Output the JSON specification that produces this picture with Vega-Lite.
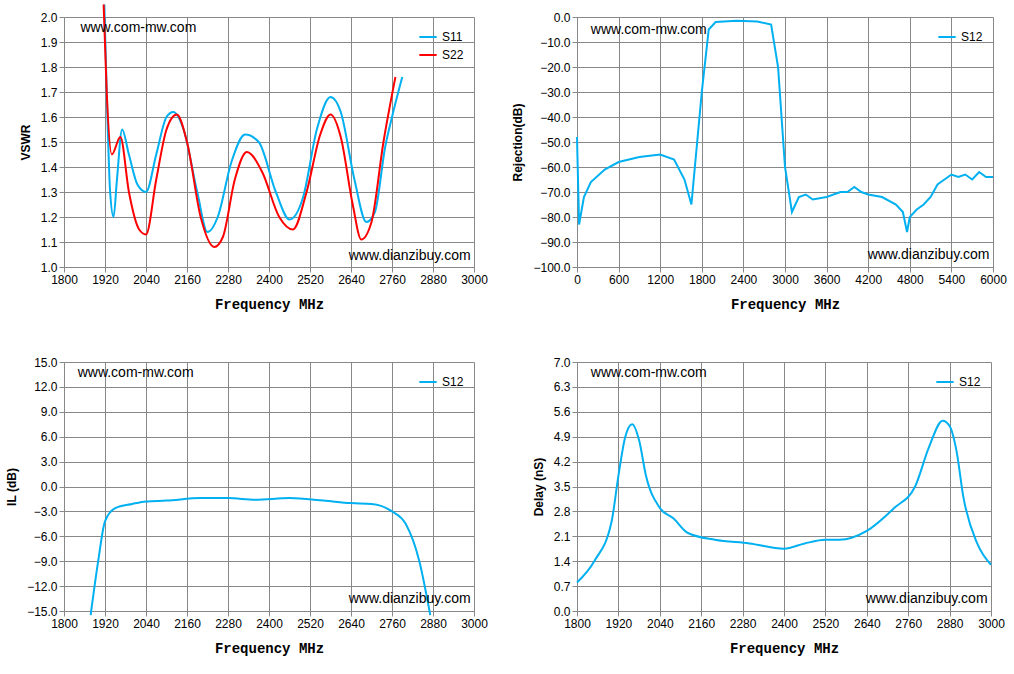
{
  "$schema": "https://vega.github.io/schema/vega-lite/v6.json",
  "background": "white",
  "padding": {"left": 5, "top": 0, "right": 5, "bottom": 5},
  "spacing": 45,
  "config": {
    "font": "Liberation Sans",
    "view": {"stroke": null},
    "axis": {"labelFont": "Liberation Sans", "labelFontSize": 12, "labelColor": "#000", "labelOverlap": false, "labelFlush": false, "gridColor": "#888", "gridWidth": 1, "domainColor": "#888", "tickColor": "#888", "titleFontSize": 12, "titleColor": "#000"},
    "axisX": {"titleFont": "Liberation Mono", "titleFontWeight": "bold", "titleFontSize": 14, "titlePadding": 12, "format": "d"},
    "axisY": {"titleFont": "Liberation Sans", "titleFontWeight": "bold", "titlePadding": 8},
    "legend": {"orient": "top-right", "title": null, "labelFontSize": 12, "symbolType": "stroke", "symbolStrokeWidth": 2, "symbolSize": 300, "padding": 4, "offset": 6},
    "line": {"strokeWidth": 2, "interpolate": "monotone", "clip": true},
    "text": {"fontSize": 14, "font": "Liberation Sans"}
  },
  "vconcat": [
    {"hconcat": [
      {
        "width": 410, "height": 250,
        "encoding": {
          "x": {"field": "f", "type": "quantitative", "scale": {"domain": [1800, 3000], "nice": false}, "axis": {"values": [1800, 1920, 2040, 2160, 2280, 2400, 2520, 2640, 2760, 2880, 3000], "title": "Frequency MHz"}},
          "y": {"field": "v", "type": "quantitative", "scale": {"domain": [1.0, 2.0], "nice": false}, "axis": {"values": [1.0, 1.1, 1.2, 1.3, 1.4, 1.5, 1.6, 1.7, 1.8, 1.9, 2.0], "format": ".1f", "title": "VSWR"}}
        },
        "layer": [
          {
            "data": {"values": [
              {"f": 1918, "v": 2.05, "s": "S11"}, {"f": 1925, "v": 1.7, "s": "S11"}, {"f": 1935, "v": 1.3, "s": "S11"}, {"f": 1945, "v": 1.2, "s": "S11"}, {"f": 1955, "v": 1.35, "s": "S11"}, {"f": 1970, "v": 1.55, "s": "S11"}, {"f": 1990, "v": 1.45, "s": "S11"}, {"f": 2015, "v": 1.33, "s": "S11"}, {"f": 2040, "v": 1.3, "s": "S11"}, {"f": 2070, "v": 1.45, "s": "S11"}, {"f": 2100, "v": 1.6, "s": "S11"}, {"f": 2120, "v": 1.62, "s": "S11"}, {"f": 2150, "v": 1.55, "s": "S11"}, {"f": 2190, "v": 1.3, "s": "S11"}, {"f": 2220, "v": 1.14, "s": "S11"}, {"f": 2250, "v": 1.2, "s": "S11"}, {"f": 2290, "v": 1.42, "s": "S11"}, {"f": 2330, "v": 1.53, "s": "S11"}, {"f": 2370, "v": 1.5, "s": "S11"}, {"f": 2420, "v": 1.3, "s": "S11"}, {"f": 2460, "v": 1.19, "s": "S11"}, {"f": 2500, "v": 1.28, "s": "S11"}, {"f": 2540, "v": 1.55, "s": "S11"}, {"f": 2580, "v": 1.68, "s": "S11"}, {"f": 2610, "v": 1.62, "s": "S11"}, {"f": 2650, "v": 1.35, "s": "S11"}, {"f": 2685, "v": 1.18, "s": "S11"}, {"f": 2710, "v": 1.22, "s": "S11"}, {"f": 2740, "v": 1.48, "s": "S11"}, {"f": 2760, "v": 1.6, "s": "S11"}, {"f": 2790, "v": 1.76, "s": "S11"},
              {"f": 1916, "v": 2.05, "s": "S22"}, {"f": 1925, "v": 1.7, "s": "S22"}, {"f": 1940, "v": 1.45, "s": "S22"}, {"f": 1965, "v": 1.52, "s": "S22"}, {"f": 1990, "v": 1.3, "s": "S22"}, {"f": 2020, "v": 1.15, "s": "S22"}, {"f": 2040, "v": 1.13, "s": "S22"}, {"f": 2070, "v": 1.35, "s": "S22"}, {"f": 2100, "v": 1.55, "s": "S22"}, {"f": 2130, "v": 1.61, "s": "S22"}, {"f": 2160, "v": 1.5, "s": "S22"}, {"f": 2200, "v": 1.2, "s": "S22"}, {"f": 2240, "v": 1.08, "s": "S22"}, {"f": 2265, "v": 1.12, "s": "S22"}, {"f": 2300, "v": 1.35, "s": "S22"}, {"f": 2335, "v": 1.46, "s": "S22"}, {"f": 2380, "v": 1.38, "s": "S22"}, {"f": 2430, "v": 1.2, "s": "S22"}, {"f": 2470, "v": 1.15, "s": "S22"}, {"f": 2510, "v": 1.3, "s": "S22"}, {"f": 2550, "v": 1.53, "s": "S22"}, {"f": 2580, "v": 1.61, "s": "S22"}, {"f": 2610, "v": 1.52, "s": "S22"}, {"f": 2645, "v": 1.25, "s": "S22"}, {"f": 2670, "v": 1.11, "s": "S22"}, {"f": 2700, "v": 1.18, "s": "S22"}, {"f": 2735, "v": 1.5, "s": "S22"}, {"f": 2770, "v": 1.76, "s": "S22"}
            ]},
            "mark": "line",
            "encoding": {
              "color": {"field": "s", "type": "nominal", "scale": {"domain": ["S11", "S22"], "range": ["#00B0F0", "#FF0000"]}, "legend": {"orient": "top-right"}}
            }
          },
          {
            "data": {"values": [{"f": 1848, "v": 1.955, "t": "www.com-mw.com", "a": "left"}, {"f": 2990, "v": 1.045, "t": "www.dianzibuy.com", "a": "right"}]},
            "mark": {"type": "text", "align": {"expr": "datum.a"}},
            "encoding": {"text": {"field": "t"}}
          }
        ]
      },
      {
        "width": 416, "height": 250,
        "encoding": {
          "x": {"field": "f", "type": "quantitative", "scale": {"domain": [0, 6000], "nice": false}, "axis": {"values": [0, 600, 1200, 1800, 2400, 3000, 3600, 4200, 4800, 5400, 6000], "title": "Frequency MHz"}},
          "y": {"field": "v", "type": "quantitative", "scale": {"domain": [-100, 0], "nice": false}, "axis": {"values": [-100, -90, -80, -70, -60, -50, -40, -30, -20, -10, 0], "format": ".1f", "title": "Rejection(dB)"}}
        },
        "layer": [
          {
            "data": {"values": [
              {"f": 0, "v": -48, "s": "S12"}, {"f": 30, "v": -83, "s": "S12"}, {"f": 100, "v": -72, "s": "S12"}, {"f": 200, "v": -66, "s": "S12"}, {"f": 400, "v": -61, "s": "S12"}, {"f": 600, "v": -58, "s": "S12"}, {"f": 900, "v": -56, "s": "S12"}, {"f": 1200, "v": -55, "s": "S12"}, {"f": 1400, "v": -57, "s": "S12"}, {"f": 1550, "v": -65, "s": "S12"}, {"f": 1650, "v": -75, "s": "S12"}, {"f": 1700, "v": -60, "s": "S12"}, {"f": 1800, "v": -30, "s": "S12"}, {"f": 1900, "v": -5, "s": "S12"}, {"f": 2000, "v": -2, "s": "S12"}, {"f": 2300, "v": -1.5, "s": "S12"}, {"f": 2600, "v": -1.8, "s": "S12"}, {"f": 2800, "v": -3, "s": "S12"}, {"f": 2900, "v": -20, "s": "S12"}, {"f": 3000, "v": -60, "s": "S12"}, {"f": 3100, "v": -78, "s": "S12"}, {"f": 3200, "v": -72, "s": "S12"}, {"f": 3300, "v": -71, "s": "S12"}, {"f": 3400, "v": -73, "s": "S12"}, {"f": 3600, "v": -72, "s": "S12"}, {"f": 3800, "v": -70, "s": "S12"}, {"f": 3900, "v": -70, "s": "S12"}, {"f": 4000, "v": -68, "s": "S12"}, {"f": 4100, "v": -70, "s": "S12"}, {"f": 4200, "v": -71, "s": "S12"}, {"f": 4400, "v": -72, "s": "S12"}, {"f": 4600, "v": -75, "s": "S12"}, {"f": 4700, "v": -78, "s": "S12"}, {"f": 4760, "v": -86, "s": "S12"}, {"f": 4800, "v": -80, "s": "S12"}, {"f": 4900, "v": -77, "s": "S12"}, {"f": 5000, "v": -75, "s": "S12"}, {"f": 5100, "v": -72, "s": "S12"}, {"f": 5200, "v": -67, "s": "S12"}, {"f": 5300, "v": -65, "s": "S12"}, {"f": 5400, "v": -63, "s": "S12"}, {"f": 5500, "v": -64, "s": "S12"}, {"f": 5600, "v": -63, "s": "S12"}, {"f": 5700, "v": -65, "s": "S12"}, {"f": 5800, "v": -62, "s": "S12"}, {"f": 5900, "v": -64, "s": "S12"}, {"f": 6000, "v": -64, "s": "S12"}
            ]},
            "mark": {"type": "line", "interpolate": "linear"},
            "encoding": {
              "color": {"field": "s", "type": "nominal", "scale": {"domain": ["S12"], "range": ["#00B0F0"]}, "legend": {"orient": "top-right"}}
            }
          },
          {
            "data": {"values": [{"f": 200, "v": -5, "t": "www.com-mw.com", "a": "left"}, {"f": 5950, "v": -95, "t": "www.dianzibuy.com", "a": "right"}]},
            "mark": {"type": "text", "align": {"expr": "datum.a"}},
            "encoding": {"text": {"field": "t"}}
          }
        ]
      }
    ], "spacing": 23, "resolve": {"scale": {"color": "independent"}}},
    {"hconcat": [
      {
        "width": 410, "height": 249,
        "encoding": {
          "x": {"field": "f", "type": "quantitative", "scale": {"domain": [1800, 3000], "nice": false}, "axis": {"values": [1800, 1920, 2040, 2160, 2280, 2400, 2520, 2640, 2760, 2880, 3000], "title": "Frequency MHz"}},
          "y": {"field": "v", "type": "quantitative", "scale": {"domain": [-15, 15], "nice": false}, "axis": {"values": [-15, -12, -9, -6, -3, 0, 3, 6, 9, 12, 15], "format": ".1f", "title": "IL (dB)"}}
        },
        "layer": [
          {
            "data": {"values": [
              {"f": 1878, "v": -15.5, "s": "S12"}, {"f": 1900, "v": -9, "s": "S12"}, {"f": 1920, "v": -4.2, "s": "S12"}, {"f": 1950, "v": -2.6, "s": "S12"}, {"f": 2000, "v": -2.1, "s": "S12"}, {"f": 2040, "v": -1.8, "s": "S12"}, {"f": 2100, "v": -1.7, "s": "S12"}, {"f": 2200, "v": -1.4, "s": "S12"}, {"f": 2280, "v": -1.4, "s": "S12"}, {"f": 2360, "v": -1.6, "s": "S12"}, {"f": 2460, "v": -1.4, "s": "S12"}, {"f": 2560, "v": -1.7, "s": "S12"}, {"f": 2640, "v": -2.0, "s": "S12"}, {"f": 2700, "v": -2.1, "s": "S12"}, {"f": 2760, "v": -3.0, "s": "S12"}, {"f": 2800, "v": -4.5, "s": "S12"}, {"f": 2840, "v": -9, "s": "S12"}, {"f": 2872, "v": -15.5, "s": "S12"}
            ]},
            "mark": "line",
            "encoding": {
              "color": {"field": "s", "type": "nominal", "scale": {"domain": ["S12"], "range": ["#00B0F0"]}, "legend": {"orient": "top-right"}}
            }
          },
          {
            "data": {"values": [{"f": 1840, "v": 13.7, "t": "www.com-mw.com", "a": "left"}, {"f": 2990, "v": -13.6, "t": "www.dianzibuy.com", "a": "right"}]},
            "mark": {"type": "text", "align": {"expr": "datum.a"}},
            "encoding": {"text": {"field": "t"}}
          }
        ]
      },
      {
        "width": 414, "height": 249,
        "encoding": {
          "x": {"field": "f", "type": "quantitative", "scale": {"domain": [1800, 3000], "nice": false}, "axis": {"values": [1800, 1920, 2040, 2160, 2280, 2400, 2520, 2640, 2760, 2880, 3000], "title": "Frequency MHz"}},
          "y": {"field": "v", "type": "quantitative", "scale": {"domain": [0, 7], "nice": false}, "axis": {"values": [0, 0.7, 1.4, 2.1, 2.8, 3.5, 4.2, 4.9, 5.6, 6.3, 7.0], "format": ".1f", "title": "Delay (nS)"}}
        },
        "layer": [
          {
            "data": {"values": [
              {"f": 1800, "v": 0.8, "s": "S12"}, {"f": 1850, "v": 1.4, "s": "S12"}, {"f": 1900, "v": 2.5, "s": "S12"}, {"f": 1920, "v": 3.8, "s": "S12"}, {"f": 1940, "v": 4.9, "s": "S12"}, {"f": 1960, "v": 5.25, "s": "S12"}, {"f": 1980, "v": 4.8, "s": "S12"}, {"f": 2000, "v": 3.8, "s": "S12"}, {"f": 2040, "v": 2.9, "s": "S12"}, {"f": 2080, "v": 2.6, "s": "S12"}, {"f": 2120, "v": 2.2, "s": "S12"}, {"f": 2200, "v": 2.0, "s": "S12"}, {"f": 2300, "v": 1.9, "s": "S12"}, {"f": 2400, "v": 1.75, "s": "S12"}, {"f": 2460, "v": 1.9, "s": "S12"}, {"f": 2520, "v": 2.0, "s": "S12"}, {"f": 2560, "v": 2.0, "s": "S12"}, {"f": 2640, "v": 2.25, "s": "S12"}, {"f": 2720, "v": 2.9, "s": "S12"}, {"f": 2780, "v": 3.5, "s": "S12"}, {"f": 2820, "v": 4.6, "s": "S12"}, {"f": 2860, "v": 5.35, "s": "S12"}, {"f": 2880, "v": 5.2, "s": "S12"}, {"f": 2900, "v": 4.5, "s": "S12"}, {"f": 2920, "v": 3.2, "s": "S12"}, {"f": 2960, "v": 1.9, "s": "S12"}, {"f": 3000, "v": 1.3, "s": "S12"}
            ]},
            "mark": "line",
            "encoding": {
              "color": {"field": "s", "type": "nominal", "scale": {"domain": ["S12"], "range": ["#00B0F0"]}, "legend": {"orient": "top-right"}}
            }
          },
          {
            "data": {"values": [{"f": 1840, "v": 6.7, "t": "www.com-mw.com", "a": "left"}, {"f": 2990, "v": 0.35, "t": "www.dianzibuy.com", "a": "right"}]},
            "mark": {"type": "text", "align": {"expr": "datum.a"}},
            "encoding": {"text": {"field": "t"}}
          }
        ]
      }
    ], "spacing": 44, "resolve": {"scale": {"color": "independent"}}}
  ],
  "resolve": {"scale": {"color": "independent"}}
}
